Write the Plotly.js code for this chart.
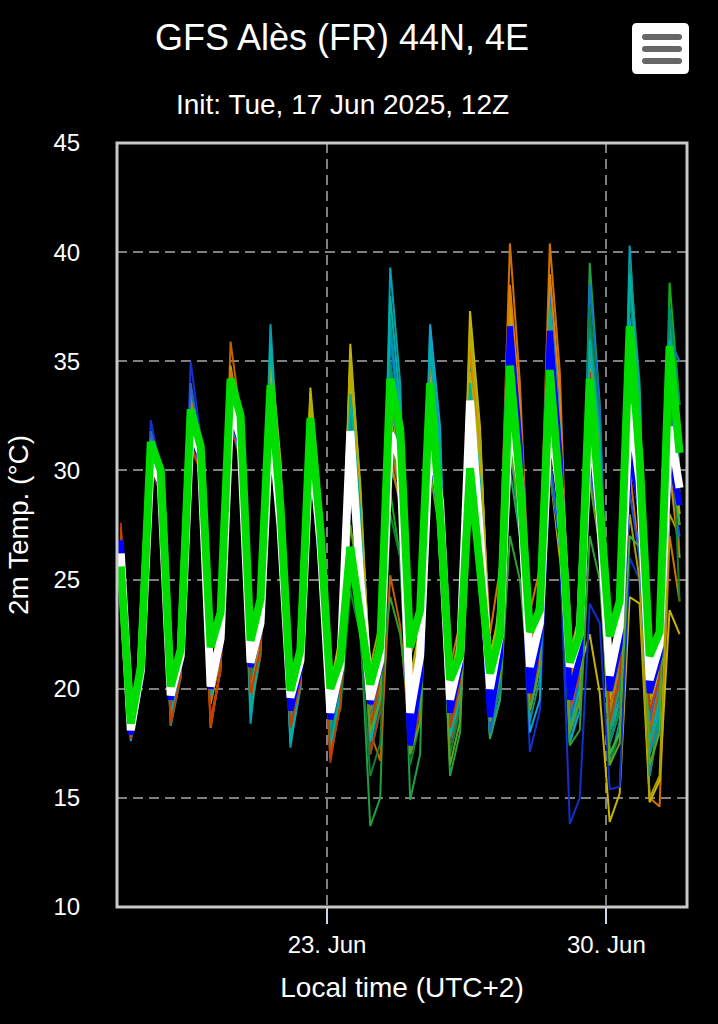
<!DOCTYPE html>
<html>
<head>
<meta charset="utf-8">
<script src="https://cdn.plot.ly/plotly-3.0.1.min.js"></script>
<style>
  html, body { margin: 0; padding: 0; background: #000; }
  #chart { width: 718px; height: 1024px; }
</style>
</head>
<body>
<div id="chart"></div>
<script>
// ---- time axis: forecast steps every 6 h from 17 Jun 2025 20:00 local (UTC+2) ----
const startTime = Date.UTC(2025, 5, 17, 20, 0);
const stepHours = 6;
const nSteps = 57;

// ---- tick labels ----
const tickDates = ['2025-06-23 00:00', '2025-06-30 00:00'];
const tickLabels = ['23. Jun', '30. Jun'];

// ---- thick lines ----
const meanTemp = [26.2,
  18.1,20.8,30.5,29.5, 19.7,21.5,32.0,30.8, 20.1,22.3,33.0,31.5, 21.2,23.0,32.5,27.5,
  19.6,21.3,31.5,26.8, 18.9,21.0,31.8,25.0, 19.5,21.3,31.7,30.5, 18.9,21.5,31.9,28.5,
  19.5,21.5,33.2,27.0, 20.0,22.5,32.8,29.5, 21.0,23.0,32.9,29.0, 21.0,22.5,32.9,28.0,
  20.6,22.8,33.0,29.5, 20.4,22.0,32.0,29.2];
const controlTemp = [26.8,
  17.9,20.5,30.5,29.3, 19.5,21.3,31.8,30.5, 20.0,22.0,32.8,31.2, 21.0,22.8,32.2,27.3,
  19.0,21.0,31.3,26.5, 18.6,20.8,31.0,25.0, 19.3,21.0,31.5,30.5, 17.4,20.5,31.5,28.0,
  18.9,21.0,32.5,27.0, 18.7,21.5,36.6,31.0, 19.8,22.5,36.4,30.5, 19.5,21.5,32.0,27.5,
  19.9,22.0,31.0,28.5, 19.8,21.5,31.0,28.4];
const operTemp = [25.6,
  18.4,21.0,31.3,30.0, 20.1,21.8,32.8,31.1, 21.9,23.5,34.2,32.5, 22.2,24.1,33.9,28.3,
  19.9,21.8,32.4,27.3, 20.0,21.3,26.5,23.3, 20.2,21.9,34.2,31.9, 21.9,23.6,34.0,28.0,
  20.4,21.5,30.1,25.5, 20.7,22.5,34.8,29.5, 22.6,23.6,34.6,29.0, 21.2,22.5,34.2,28.5,
  22.4,24.0,36.6,30.5, 21.5,22.6,35.7,30.8];

// ---- ensemble members ----
const member01 = [26.5, 18.2,20.9,30.8,29.8, 19.5,21.4,32.6,31.0, 20.0,22.0,33.8,31.8, 21.0,23.0,33.0,28.0, 19.4,21.0,32.5,27.5, 18.5,20.5,33.5,27.0, 18.5,20.0,33.0,31.0, 20.0,22.5,34.5,30.0, 21.0,23.0,35.5,31.0, 22.5,25.5,40.4,34.0, 23.5,25.5,40.4,34.5, 21.0,22.0,34.0,29.0, 19.0,21.0,30.0,26.0, 15.0,14.6,27.0,24.0];
const member02 = [27.0, 17.8,20.5,31.0,29.5, 18.3,21.0,33.5,31.0, 19.5,22.0,34.0,31.5, 18.4,22.5,36.7,29.0, 17.3,20.5,32.0,27.0, 18.0,20.0,33.0,28.0, 17.5,19.5,39.3,34.0, 19.5,21.0,36.5,31.0, 17.5,19.0,33.0,28.5, 18.5,21.0,37.0,32.0, 20.0,22.5,38.5,32.5, 18.5,20.5,37.0,31.0, 19.0,21.5,40.3,33.0, 18.0,20.0,35.0,28.5];
const member03 = [25.8, 18.6,21.2,31.5,30.2, 19.8,21.6,32.2,30.5, 20.8,22.5,33.5,31.0, 21.0,23.5,33.0,28.0, 19.0,21.0,31.0,26.0, 18.0,19.5,30.0,23.0, 13.7,15.0,30.0,29.0, 14.9,17.0,33.0,27.0, 16.0,18.0,31.0,26.0, 17.8,19.5,34.0,29.0, 19.0,21.0,35.0,29.5, 18.0,20.0,39.5,33.0, 17.5,19.5,36.0,31.0, 17.0,19.0,34.5,28.0];
const member04 = [26.0, 18.0,20.7,30.5,29.5, 19.5,21.5,32.0,31.0, 20.5,22.5,33.0,31.5, 21.5,23.5,35.0,30.0, 19.5,21.5,33.8,28.5, 19.0,21.5,35.8,29.0, 20.0,22.0,32.0,30.0, 20.0,22.5,33.0,29.0, 19.5,22.0,37.3,32.0, 21.0,23.0,34.0,30.0, 21.0,22.5,30.0,26.0, 21.0,20.9,22.5,19.8, 13.9,15.2,24.2,23.9, 14.8,15.8,23.6,22.5];
const member05 = [26.6, 17.9,20.5,32.3,30.0, 19.5,21.5,35.0,31.5, 20.0,22.0,33.5,31.0, 21.5,23.5,32.0,27.5, 19.5,21.5,31.0,26.5, 19.0,21.0,30.5,25.0, 19.0,21.0,31.5,29.5, 18.5,21.0,33.0,29.0, 19.0,21.5,32.0,28.0, 19.0,21.0,31.0,27.5, 17.1,19.0,30.0,26.5, 13.8,15.0,23.9,23.0, 15.4,15.5,26.0,25.0, 18.5,20.0,31.0,30.0];
const member06 = [27.6, 17.7,20.3,30.0,29.0, 18.5,20.8,31.0,30.0, 18.2,21.0,32.0,30.5, 20.0,22.0,32.5,27.0, 18.5,20.5,31.0,26.0, 16.6,19.5,31.5,25.5, 18.5,21.0,30.5,29.5, 19.0,21.5,32.5,28.0, 18.5,20.5,32.0,27.0, 19.0,21.5,35.0,30.0, 20.0,22.0,34.0,29.5, 19.5,21.0,33.0,28.0, 19.0,21.5,33.0,30.0, 19.5,21.0,32.0,29.0];
const member07 = [26.3, 18.3,21.0,31.0,30.0, 19.8,21.8,32.0,30.5, 20.5,22.5,33.5,31.5, 21.0,23.5,34.0,28.5, 19.5,21.5,32.0,27.0, 19.0,21.0,31.0,24.5, 18.0,20.0,29.0,26.0, 17.0,19.0,31.0,27.0, 17.5,19.5,30.0,25.0, 18.0,20.5,31.5,27.0, 19.0,21.0,32.5,28.0, 19.5,21.5,34.0,29.0, 17.0,18.0,35.0,31.0, 16.0,19.0,38.6,33.0];
const member08 = [26.4, 18.0,20.6,30.5,29.0, 19.6,21.3,32.5,30.5, 20.0,22.0,34.5,32.0, 21.5,23.5,33.0,28.0, 19.2,21.0,31.5,27.0, 19.5,21.5,32.5,26.0, 20.0,22.0,36.0,32.0, 18.5,20.5,35.0,30.0, 18.0,20.0,32.5,28.0, 18.5,21.0,35.5,31.0, 19.5,21.5,38.5,33.0, 19.0,21.0,38.5,33.0, 20.0,22.0,38.5,33.0, 18.0,20.0,36.0,35.0];
const member09 = [26.9, 18.1,20.7,31.5,30.0, 19.0,21.0,33.0,31.5, 18.2,21.0,35.9,32.5, 20.5,22.5,33.5,29.0, 18.8,21.0,32.0,27.0, 18.0,20.0,32.5,28.5, 18.0,16.7,25.2,22.9, 17.5,19.5,31.0,28.0, 18.5,20.5,34.0,31.0, 20.0,22.5,38.0,33.0, 22.0,24.0,37.0,31.5, 18.5,20.0,33.0,29.0, 18.0,20.5,32.0,29.0, 17.0,19.5,33.0,30.0];
const member10 = [26.1, 18.2,20.8,30.3,29.3, 19.9,21.7,31.5,30.3, 20.8,22.8,32.5,31.0, 22.0,24.5,34.5,29.5, 20.0,22.0,32.5,28.0, 20.3,22.0,34.5,28.0, 21.0,23.0,33.0,30.5, 21.5,23.0,34.0,29.0, 20.5,22.5,35.0,30.0, 21.0,23.0,33.0,29.0, 21.0,23.0,33.5,29.0, 20.0,22.0,35.0,30.0, 18.5,22.6,28.0,25.0, 15.0,16.0,28.0,27.0];
const member11 = [26.7, 17.9,20.4,31.2,29.8, 18.3,20.5,32.5,30.5, 19.5,21.5,33.0,31.0, 19.0,21.5,34.5,29.0, 18.0,20.5,31.0,26.0, 17.0,19.5,34.0,28.0, 17.5,19.5,37.0,31.5, 18.0,20.0,33.5,28.5, 17.7,19.5,35.0,30.0, 19.0,21.0,36.0,31.0, 18.5,20.5,36.5,31.0, 17.5,19.5,37.0,32.0, 16.5,18.5,39.5,34.0, 16.0,18.5,36.5,26.0];
const member12 = [26.5, 17.6,20.2,30.5,29.0, 18.8,20.8,32.0,30.5, 19.5,21.5,32.5,30.5, 20.0,22.5,33.0,28.0, 17.5,20.0,30.5,25.0, 17.5,19.5,33.0,27.0, 17.0,19.0,35.0,31.0, 17.5,19.5,36.7,32.0, 17.5,19.0,34.5,30.0, 18.5,20.5,36.0,31.0, 18.0,19.5,35.0,30.0, 17.5,19.0,35.5,31.0, 18.0,19.5,37.0,32.0, 17.5,19.0,36.0,31.0];
const member13 = [25.9, 18.5,21.0,31.0,29.9, 19.7,21.6,32.4,31.0, 20.6,22.6,33.4,31.5, 21.3,23.5,33.5,28.5, 19.4,21.4,31.8,27.0, 19.0,21.0,26.0,24.0, 19.0,20.5,24.2,22.5, 18.5,20.0,30.0,27.5, 18.0,20.0,29.0,26.0, 17.7,19.5,27.0,25.0, 20.0,22.0,30.0,27.0, 17.4,18.1,27.0,25.0, 18.5,20.5,33.0,29.0, 19.0,21.0,34.0,30.0];
const member14 = [26.2, 18.2,20.9,30.7,29.6, 19.6,21.5,32.2,30.9, 20.3,22.3,34.8,32.0, 21.2,23.3,35.5,30.5, 19.8,21.8,33.0,28.0, 19.5,22.0,35.0,29.0, 19.5,21.5,33.5,30.5, 19.5,21.5,34.5,30.0, 20.0,22.5,36.0,31.5, 21.5,23.5,37.5,33.0, 21.5,23.0,37.5,32.0, 20.5,22.0,34.5,30.0, 20.0,22.0,36.5,31.5, 19.0,21.0,34.0,30.0];
const member15 = [27.2, 17.9,20.4,30.2,29.2, 18.8,20.7,31.4,30.2, 18.6,20.8,33.2,31.2, 19.0,21.5,33.0,28.5, 18.0,20.0,31.5,27.0, 17.5,19.5,32.0,27.5, 17.0,19.0,32.5,29.5, 17.0,19.0,33.5,29.0, 17.5,19.5,33.0,29.0, 18.5,20.5,35.0,31.0, 19.0,21.0,35.5,31.0, 18.5,19.5,34.5,30.0, 17.5,19.0,35.5,31.5, 17.5,19.5,33.5,30.0];
const member16 = [26.0, 18.1,20.6,30.4,29.4, 19.8,21.6,31.8,30.4, 20.6,22.6,32.6,30.8, 21.6,23.8,32.0,27.5, 20.0,22.0,30.0,26.0, 19.5,21.0,30.0,25.5, 19.5,21.5,30.5,28.5, 19.0,21.0,30.5,27.5, 19.5,21.5,32.0,28.0, 20.0,22.0,33.0,29.5, 20.5,22.5,30.5,27.0, 20.0,22.0,31.0,27.0, 19.5,21.0,29.0,26.0, 18.0,20.0,30.0,27.0];
const member17 = [26.4, 18.0,20.6,30.9,29.7, 19.2,21.2,32.3,30.8, 19.8,21.9,33.3,31.3, 20.5,22.8,33.8,28.8, 18.5,20.8,32.0,27.5, 18.0,20.5,31.5,26.0, 18.0,20.5,33.5,30.5, 18.0,20.5,34.0,30.0, 18.0,20.0,31.0,27.0, 17.8,19.5,30.0,27.0, 19.5,21.5,33.0,28.5, 19.5,21.5,33.5,29.0, 18.0,20.0,35.5,31.0, 18.5,20.5,37.0,32.0];
const member18 = [26.6, 18.3,20.9,31.0,29.9, 19.3,21.2,32.8,31.2, 19.5,21.5,34.0,31.8, 20.8,22.8,34.0,29.5, 19.0,21.2,32.5,28.0, 18.5,20.8,33.0,27.0, 18.0,20.5,34.0,31.0, 19.0,21.5,35.0,30.5, 19.5,21.5,35.5,31.0, 21.0,24.0,38.5,33.0, 22.0,24.5,39.0,33.5, 20.5,22.0,36.0,31.0, 20.0,22.0,34.0,30.5, 18.5,20.5,30.0,26.0];
const member19 = [26.1, 18.4,21.1,31.4,30.1, 20.1,21.9,32.7,31.2, 20.9,22.9,33.8,31.9, 21.8,24.0,34.5,30.0, 20.2,22.2,33.5,28.0, 20.0,22.5,34.0,28.5, 20.5,22.5,32.0,29.5, 20.5,22.5,31.0,27.5, 19.5,21.5,34.5,30.5, 20.5,22.5,33.0,30.0, 21.5,23.5,34.0,30.0, 21.5,23.5,33.5,29.5, 21.0,22.6,31.0,28.0, 20.0,21.5,32.5,27.5];
const member20 = [26.0, 18.3,20.9,30.6,29.5, 19.4,21.4,31.6,30.2, 20.1,22.1,33.1,31.1, 20.9,23.1,34.2,29.0, 19.1,21.2,31.2,26.5, 18.6,19.0,24.5,22.5, 16.0,17.5,28.0,26.0, 16.5,18.5,32.0,28.0, 17.0,19.0,33.5,29.0, 19.0,21.0,32.0,28.5, 19.0,21.0,34.0,29.5, 18.5,20.5,37.5,32.0, 16.5,18.0,33.0,29.0, 16.5,18.0,35.0,24.0];
const member21 = [26.3, 17.8,20.4,30.8,29.6, 18.9,21.0,33.0,31.0, 19.8,21.8,33.6,31.4, 19.5,22.0,35.5,29.5, 18.0,20.3,31.8,26.5, 17.8,19.8,32.5,27.5, 18.5,20.5,36.5,32.5, 18.0,20.0,35.5,31.0, 18.3,20.3,33.5,29.0, 18.0,20.0,33.5,30.5, 19.5,21.5,36.0,31.5, 18.8,20.5,34.0,30.0, 17.5,19.0,36.5,32.0, 17.0,18.5,33.0,29.0];
const member22 = [26.8, 18.0,20.6,31.2,30.0, 19.1,21.1,33.2,31.4, 19.3,21.4,34.6,32.2, 20.2,22.2,33.6,29.2, 18.6,20.7,32.4,27.8, 17.5,19.5,31.0,26.0, 19.0,21.5,30.5,28.5, 19.5,21.0,32.5,29.0, 18.0,20.0,31.0,27.5, 20.0,22.0,36.5,32.5, 21.0,23.0,36.0,31.0, 20.0,21.5,31.5,28.0, 19.0,21.0,31.5,28.5, 18.0,20.5,34.5,31.0];
const member23 = [26.0, 18.4,21.0,31.1,29.9, 19.9,21.8,32.3,30.7, 20.7,22.7,33.2,31.2, 21.1,23.2,33.7,28.7, 19.3,21.3,31.5,27.0, 19.0,20.5,29.0,25.0, 18.5,20.0,34.0,31.0, 19.0,20.5,31.5,28.0, 18.5,20.0,32.5,28.0, 19.5,21.5,33.5,29.5, 20.5,22.5,33.5,28.5, 20.0,21.5,32.5,27.5, 17.0,18.0,27.0,26.5, 18.0,19.5,31.0,27.5];
const member24 = [27.3, 17.8,20.3,30.6,29.5, 18.7,20.6,31.8,30.6, 18.4,20.9,33.8,31.6, 19.5,21.8,33.2,28.2, 18.2,20.2,31.3,26.8, 17.0,19.2,31.5,26.5, 18.0,20.0,32.0,29.0, 18.0,20.5,33.0,29.0, 18.5,19.5,31.5,28.5, 18.5,20.5,34.5,31.0, 20.5,22.5,35.0,30.5, 19.0,20.5,33.5,29.5, 19.5,20.0,33.0,29.5, 18.0,20.0,32.5,28.5];
const member25 = [26.5, 18.1,20.7,30.9,29.7, 19.3,21.2,32.1,30.6, 19.9,22.0,33.0,31.0, 20.4,22.6,34.8,29.5, 18.4,20.6,32.2,27.2, 17.8,20.0,33.5,28.0, 17.8,19.8,35.0,31.0, 18.5,20.5,34.0,29.5, 17.8,19.5,32.0,28.0, 18.2,20.0,34.5,31.0, 19.0,21.0,35.5,31.5, 18.5,20.0,36.5,32.0, 17.5,19.0,38.0,33.5, 17.5,19.5,37.5,33.0];
const member26 = [26.9, 17.8,20.4,31.8,30.2, 19.2,21.2,34.0,31.2, 19.7,21.8,33.3,31.0, 20.8,23.0,32.5,28.0, 19.0,21.0,31.2,26.8, 18.8,20.7,31.5,26.5, 19.2,21.0,32.5,30.0, 17.5,20.0,32.0,28.5, 18.6,20.8,33.0,28.5, 18.0,20.5,35.5,31.5, 20.0,22.0,35.0,30.0, 18.5,20.5,30.0,27.0, 18.5,20.5,30.5,28.0, 18.5,20.5,31.5,29.5];
const member27 = [26.2, 18.3,20.9,30.6,29.7, 19.7,21.6,32.0,30.9, 20.4,22.4,33.4,31.6, 21.4,23.6,34.8,30.2, 19.9,22.0,33.2,28.4, 19.6,22.2,35.2,29.4, 20.2,22.2,32.5,29.5, 20.5,22.8,33.5,29.5, 20.0,22.3,36.5,31.5, 21.5,23.5,35.0,31.0, 21.5,23.5,35.5,31.0, 21.5,22.5,31.0,27.0, 19.5,21.5,33.5,30.0, 19.5,21.0,31.5,28.0];
const member28 = [26.6, 17.9,20.5,31.0,29.7, 18.8,20.9,32.8,30.9, 19.6,21.7,33.7,31.4, 18.9,21.8,35.8,29.3, 17.6,20.2,31.6,26.6, 17.3,19.7,33.5,28.0, 17.6,19.6,38.0,33.0, 19.0,20.8,35.8,31.0, 17.8,19.5,34.0,29.5, 18.8,20.8,36.5,31.5, 19.5,21.5,37.5,32.0, 18.2,20.0,36.0,31.5, 18.5,20.5,39.0,33.5, 17.5,19.5,36.0,30.0];
const member29 = [27.4, 17.7,20.2,30.1,29.1, 18.4,20.6,31.2,30.0, 18.3,20.9,32.5,30.8, 19.8,21.8,32.8,27.8, 18.2,20.3,31.2,26.4, 16.8,19.3,31.2,25.8, 18.2,20.5,31.0,29.0, 18.5,21.0,32.0,28.5, 18.2,20.2,32.5,28.0, 18.8,21.0,34.5,30.5, 19.5,21.5,34.5,30.0, 19.5,20.5,32.5,28.5, 18.5,20.5,32.0,29.0, 19.0,20.5,31.5,28.5];
const member30 = [26.1, 18.4,21.0,30.9,29.9, 19.9,21.8,32.4,30.9, 20.6,22.6,33.0,31.2, 21.4,23.6,33.6,28.6, 19.6,21.6,31.8,27.2, 19.2,20.2,27.5,24.5, 18.0,19.5,31.5,29.0, 17.0,18.5,30.0,27.0, 16.5,18.5,28.0,26.0, 18.5,20.5,31.0,28.0, 19.0,21.0,31.5,28.0, 18.0,19.5,29.5,26.5, 16.5,17.5,30.5,28.0, 16.5,18.0,32.0,28.5];

const members = [member01, member02, member03, member04, member05, member06, member07, member08, member09, member10,
                 member11, member12, member13, member14, member15, member16, member17, member18, member19, member20,
                 member21, member22, member23, member24, member25, member26, member27, member28, member29, member30];
const memberColors = ['#d07000', '#00a0b4', '#20a040', '#c8b400', '#1030d0', '#b03010', '#10b010', '#1070d0', '#c06000', '#a8a000',
                      '#109080', '#10a0d0', '#30a030', '#d0a000', '#a04010', '#2050e0', '#20a070', '#e08000', '#b8b000', '#108030',
                      '#0090c0', '#c08000', '#40b040', '#d05000', '#009070', '#3060c0', '#b0b000', '#00b0a0', '#c04000', '#60a020'];

// ---- build x values (regular 6-hourly forecast steps) ----
function fmt(ms) {
  return new Date(ms).toISOString().slice(0, 16).replace('T', ' ');
}
const times = [];
for (let i = 0; i < nSteps; i++) times.push(fmt(startTime + i * stepHours * 3600 * 1000));

const traces = [];
members.forEach((m, k) => {
  traces.push({
    x: times, y: m, type: 'scatter', mode: 'lines',
    name: 'Member ' + (k + 1),
    line: { color: memberColors[k], width: 2 },
    hoverinfo: 'skip'
  });
});
traces.push({ x: times, y: controlTemp, type: 'scatter', mode: 'lines', name: 'Control',
  line: { color: '#0000ff', width: 6 } });
traces.push({ x: times, y: meanTemp, type: 'scatter', mode: 'lines', name: 'Mean',
  line: { color: '#ffffff', width: 8 } });
traces.push({ x: times, y: operTemp, type: 'scatter', mode: 'lines', name: 'GFS',
  line: { color: '#00dd00', width: 8 } });

// ---- layout geometry helpers (pixel -> paper) ----
const W = 718, H = 1024;
const mL = 117, mR = 31, mT = 143, mB = 117;
const pw = W - mL - mR, ph = H - mT - mB;
const px = v => (v - mL) / pw;
const py = v => (H - mB - v) / ph;

function roundRect(x0, y0, x1, y1, r) {
  const X0 = px(x0), X1 = px(x1), Y0 = py(y0), Y1 = py(y1);
  const rx = r / pw, ry = r / ph;
  return `M ${X0 + rx},${Y0} L ${X1 - rx},${Y0} Q ${X1},${Y0} ${X1},${Y0 - ry} L ${X1},${Y1 + ry} Q ${X1},${Y1} ${X1 - rx},${Y1} L ${X0 + rx},${Y1} Q ${X0},${Y1} ${X0},${Y1 + ry} L ${X0},${Y0 - ry} Q ${X0},${Y0} ${X0 + rx},${Y0} Z`;
}

const FONT = 'Liberation Sans, Arial, sans-serif';
const shapes = [
  { type: 'rect', xref: 'paper', yref: 'paper', x0: 0, x1: 1, y0: 0, y1: 1,
    line: { color: '#c8c8c8', width: 3 }, layer: 'above' },
  { type: 'path', xref: 'paper', yref: 'paper', path: roundRect(632, 23, 689, 74, 5),
    fillcolor: '#ffffff', line: { width: 0 }, layer: 'above' },
  { type: 'path', xref: 'paper', yref: 'paper', path: roundRect(642, 34, 682, 40, 3),
    fillcolor: '#666666', line: { width: 0 }, layer: 'above' },
  { type: 'path', xref: 'paper', yref: 'paper', path: roundRect(642, 46, 682, 52, 3),
    fillcolor: '#666666', line: { width: 0 }, layer: 'above' },
  { type: 'path', xref: 'paper', yref: 'paper', path: roundRect(642, 58, 682, 64, 3),
    fillcolor: '#666666', line: { width: 0 }, layer: 'above' }
];

const layout = {
  width: W, height: H,
  paper_bgcolor: '#000000', plot_bgcolor: '#000000',
  margin: { l: mL, r: mR, t: mT, b: mB, pad: 0 },
  showlegend: false,
  font: { family: FONT, color: '#ffffff' },
  title: {
    text: 'GFS Alès (FR) 44N, 4E',
    font: { family: FONT, size: 36, color: '#ffffff' },
    xref: 'container', yref: 'container',
    x: 342 / W, xanchor: 'center', y: 1 - 37 / H, yanchor: 'middle'
  },
  annotations: [{
    text: 'Init: Tue, 17 Jun 2025, 12Z', showarrow: false,
    xref: 'paper', yref: 'paper', x: px(342), y: py(105), xanchor: 'center', yanchor: 'middle',
    font: { family: FONT, size: 28, color: '#ffffff' }
  }],
  xaxis: {
    type: 'date',
    range: ['2025-06-17 17:42', '2025-07-02 00:29'],
    tickmode: 'array', tickvals: tickDates, ticktext: tickLabels,
    ticks: 'outside', ticklen: 16, tickwidth: 2, tickcolor: '#ccd6eb',
    tickfont: { family: FONT, size: 24, color: '#ffffff' },
    showgrid: true, gridcolor: '#808080', gridwidth: 2, griddash: '10px,6px',
    showline: false, zeroline: false,
    title: { text: 'Local time (UTC+2)', font: { family: FONT, size: 28, color: '#ffffff' }, standoff: 20 },
    automargin: false, fixedrange: true
  },
  yaxis: {
    range: [10, 45], tickvals: [10, 15, 20, 25, 30, 35, 40, 45],
    ticks: 'outside', ticklen: 0, tickcolor: 'rgba(0,0,0,0)',
    ticklabelstandoff: 31,
    tickfont: { family: FONT, size: 24, color: '#ffffff' },
    showgrid: true, gridcolor: '#808080', gridwidth: 2, griddash: '10px,6px',
    showline: false, zeroline: false,
    title: { text: '2m Temp. (°C)', font: { family: FONT, size: 28, color: '#ffffff' }, standoff: 16 },
    automargin: false, fixedrange: true
  },
  shapes: shapes
};

Plotly.newPlot('chart', traces, layout, { displayModeBar: false, staticPlot: true });
</script>
</body>
</html>
